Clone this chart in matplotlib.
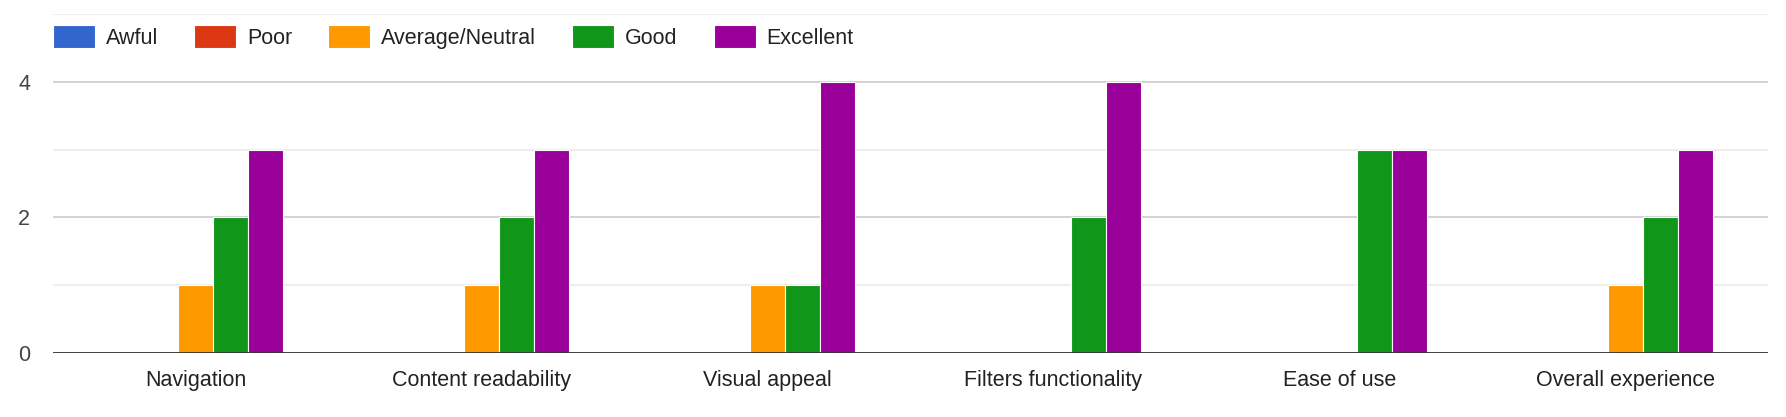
import matplotlib.pyplot as plt
import numpy as np

plt.rcParams["font.family"] = ["Liberation Sans", "DejaVu Sans"]

categories = ["Navigation", "Content readability", "Visual appeal",
              "Filters functionality", "Ease of use", "Overall experience"]
series_names = ["Awful", "Poor", "Average/Neutral", "Good", "Excellent"]
awful = [0, 0, 0, 0, 0, 0]
poor = [0, 0, 0, 0, 0, 0]
average = [1, 1, 1, 0, 0, 1]
good = [2, 2, 1, 2, 3, 2]
excellent = [3, 3, 4, 4, 3, 3]
colors = ["#3366cc", "#dc3912", "#ff9900", "#109618", "#990099"]

W, H = 1786, 417
fig = plt.figure(figsize=(W / 100, H / 100), dpi=100)
ax = fig.add_axes([53 / W, 1 - 353 / H, (1768 - 53) / W, (353 - 14) / H])

x = np.arange(len(categories))
bw = 0.1225
handles = []
for i, (vals, name, c) in enumerate(zip([awful, poor, average, good, excellent],
                                        series_names, colors)):
    h = ax.bar(x + (i - 2) * bw, vals, bw, color=c, edgecolor="white",
               linewidth=0.8, label=name, zorder=3)
    handles.append(h)

ax.set_xlim(-0.5, len(categories) - 0.5)
ax.set_ylim(0, 5)
ax.set_yticks([0, 2, 4])
ax.set_yticks([1, 3, 5], minor=True)
ax.grid(axis="y", which="major", color="#cccccc", linewidth=1.2, zorder=0)
ax.grid(axis="y", which="minor", color="#ebebeb", linewidth=1.2, zorder=0)
ax.axhline(0, color="#333333", linewidth=2, zorder=4)
for s in ax.spines.values():
    s.set_visible(False)

ax.set_xticks(x)
ax.set_xticklabels(categories)
ax.tick_params(axis="both", which="both", length=0, labelsize=15.5,
               labelcolor="#222222")
ax.tick_params(axis="y", pad=16.5, labelcolor="#444444")
ax.tick_params(axis="x", pad=12.5)

fig.legend(handles=handles, loc="center left",
           bbox_to_anchor=(53 / W, 1 - 37 / H), ncol=5, frameon=False,
           fontsize=15.5, borderpad=0, borderaxespad=0,
           handlelength=1.95, handleheight=1.25, handletextpad=0.51,
           columnspacing=1.67, labelcolor="#222222")

fig.savefig("out.png", dpi=100)
